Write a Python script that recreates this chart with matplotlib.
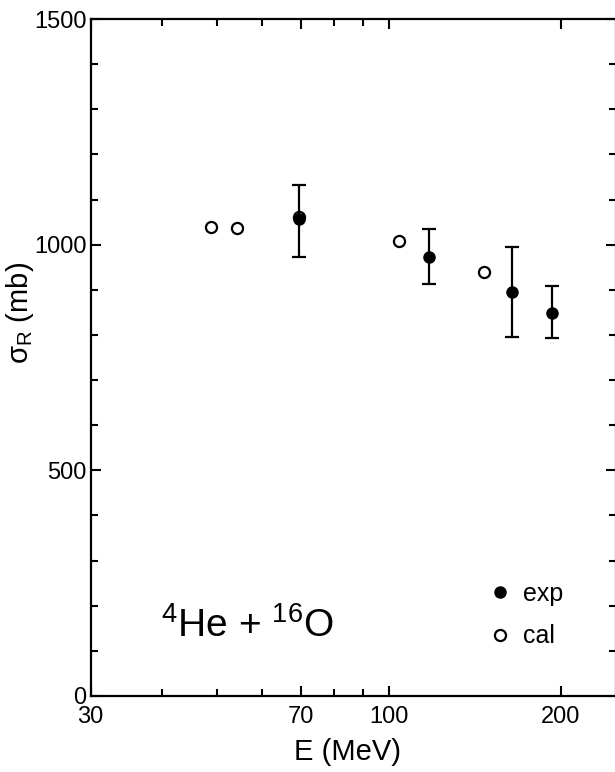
import numpy as np
import matplotlib
matplotlib.use('Agg')
import matplotlib.pyplot as plt
from matplotlib.ticker import FixedLocator, NullFormatter, FixedFormatter

plt.rcParams['font.family'] = ['Liberation Sans', 'DejaVu Sans']
plt.rcParams['mathtext.fontset'] = 'custom'
plt.rcParams['mathtext.rm'] = 'Liberation Sans'
plt.rcParams['mathtext.it'] = 'Liberation Sans'

# experimental points (E in MeV, sigma_R in mb)
E_exp = [69.6, 117.5, 164.2, 193.0]
sig_exp = [1056, 973, 895, 849]
err_lo = [83, 61, 100, 56]
err_hi = [76, 61, 99, 60]

# calculated points
E_cal = [48.7, 54.1, 69.6, 104.0, 146.6]
sig_cal = [1040, 1038, 1062, 1009, 939]

x_major = [30, 70, 100, 200]
x_minor = [40, 50, 60, 80, 90]
y_major = [0, 500, 1000, 1500]
y_minor = [100, 200, 300, 400, 600, 700, 800, 900, 1100, 1200, 1300, 1400]

fig = plt.figure(figsize=(6.15, 7.72), dpi=100)
ax = fig.add_axes([90.7/615, 1 - 696/772, (616 - 90.7)/615, (696 - 19)/772])

ax.plot(E_cal, sig_cal, 'o', ms=8, mfc='white', mec='black', mew=1.6,
        label='cal', zorder=2)
ax.errorbar(E_exp, sig_exp, yerr=[err_lo, err_hi], fmt='none',
            ecolor='black', elinewidth=1.6, capsize=5, capthick=1.6, zorder=3)
ax.plot(E_exp, sig_exp, 'o', ms=8, color='black', label='exp', zorder=4)

ax.set_xscale('log')
ax.set_xlim(30, 250)
ax.set_ylim(0, 1500)

ax.xaxis.set_major_locator(FixedLocator(x_major))
ax.xaxis.set_major_formatter(FixedFormatter([str(v) for v in x_major]))
ax.xaxis.set_minor_locator(FixedLocator(x_minor))
ax.xaxis.set_minor_formatter(NullFormatter())
ax.yaxis.set_major_locator(FixedLocator(y_major))
ax.yaxis.set_minor_locator(FixedLocator(y_minor))

ax.tick_params(which='both', direction='in', top=True, right=True,
               width=1.5, labelsize=17, color='black')
ax.tick_params(which='major', length=7.5, pad=3)
ax.tick_params(which='minor', length=5)
ax.tick_params(axis='x', pad=7)
for s in ax.spines.values():
    s.set_linewidth(1.6)

fig.text(348/615, 1 - 752/772, 'E (MeV)', fontsize=21, ha='center', va='center')
fig.text(20/615, 1 - 313/772, 'σ$_{\\mathrm{R}}$ (mb)', fontsize=21,
         rotation=90, ha='center', va='center')
fig.text(161/615, 1 - 637/772, '$^{4}$He + $^{16}$O', fontsize=28,
         ha='left', va='baseline')

h, l = ax.get_legend_handles_labels()
ax.legend(h[::-1], l[::-1], frameon=False, numpoints=1, handlelength=0.6,
          handletextpad=0.6, labelspacing=0.75, fontsize=18,
          loc='upper left', bbox_to_anchor=(470/615, 1 - 559/772),
          bbox_transform=fig.transFigure)

fig.savefig('out.png', dpi=100)
